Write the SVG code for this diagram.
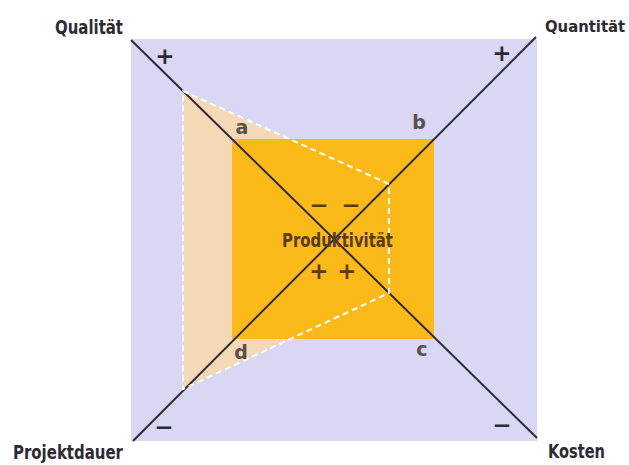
<svg xmlns="http://www.w3.org/2000/svg" width="629" height="465" viewBox="0 0 629 465">
<style>
.lbl{font-family:"DejaVu Sans Condensed","Liberation Sans Narrow","Liberation Sans",sans-serif;font-weight:bold;font-size:19px;fill:#2e2a33}
.pt{font-family:"DejaVu Sans","Liberation Sans",sans-serif;font-weight:bold;font-size:19px;fill:#5a4f4c;text-anchor:middle}
.sign{font-family:"DejaVu Sans","Liberation Sans",sans-serif;font-weight:bold;font-size:23px;fill:#2e2a33;text-anchor:middle}
.csign{font-family:"DejaVu Sans","Liberation Sans",sans-serif;font-weight:bold;font-size:23px;fill:#5a3c12;text-anchor:middle}
.axis{stroke:#2f2838;stroke-width:2;fill:none}
.dash{stroke:#ffffff;stroke-width:2;stroke-dasharray:6 4;fill:none}
</style>
<rect width="629" height="465" fill="#ffffff"/>
<g id="background">
<rect x="131" y="39" width="406" height="402" fill="#d9d7f3"/>
<polygon points="183,91 389,184 389,293 183,389" fill="#f4d9b6"/>
<rect x="232" y="139" width="202" height="200" fill="#fbba1a"/>
</g>
<g id="connectors">
<line class="axis" x1="131" y1="40" x2="537" y2="438"/>
<line class="axis" x1="536" y1="37" x2="133" y2="441"/>
<polygon class="dash" points="183,91 389,184 389,293 183,389"/>
</g>
<g id="node-qualitaet"><text class="lbl" x="55" y="34" textLength="68" lengthAdjust="spacingAndGlyphs">Qualität</text><text class="sign" x="165" y="64">+</text></g>
<g id="node-quantitaet"><text class="lbl" x="545" y="32" style="font-size:16.5px">Quantität</text><text class="sign" x="502" y="61">+</text></g>
<g id="node-projektdauer"><text class="lbl" x="13" y="459" textLength="110" lengthAdjust="spacingAndGlyphs">Projektdauer</text><text class="sign" x="164" y="435">−</text></g>
<g id="node-kosten"><text class="lbl" x="548" y="458" textLength="57" lengthAdjust="spacingAndGlyphs">Kosten</text><text class="sign" x="502" y="433">−</text></g>
<g id="node-a"><text class="pt" x="242" y="134">a</text></g>
<g id="node-b"><text class="pt" x="419" y="129">b</text></g>
<g id="node-c"><text class="pt" x="422" y="356">c</text></g>
<g id="node-d"><text class="pt" x="241" y="359">d</text></g>
<g id="node-produktivitaet">
<text class="lbl" x="282" y="247" textLength="111" lengthAdjust="spacingAndGlyphs" style="fill:#5a3c12;font-size:20px">Produktivität</text>
<text class="csign" x="319" y="213">−</text><text class="csign" x="351" y="213">−</text>
<text class="csign" x="319" y="279">+</text><text class="csign" x="347" y="279">+</text>
</g>
</svg>
